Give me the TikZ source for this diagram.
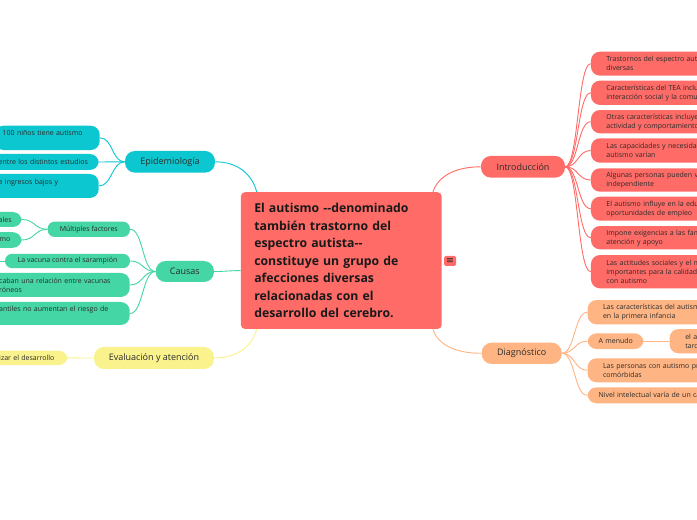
\documentclass[tikz,border=0pt]{standalone}
\usepackage{fontspec}
\setmainfont{Open Sans}
\newfontfamily\symfont{DejaVu Sans}
\usetikzlibrary{calc}
\newlength\pxu \setlength\pxu{0.75pt}
\definecolor{introc}{HTML}{FF6B66}
\definecolor{epic}{HTML}{0CC7CF}
\definecolor{causc}{HTML}{45D6A5}
\definecolor{evalc}{HTML}{FAF28C}
\definecolor{diagc}{HTML}{FFB583}
\definecolor{txt}{HTML}{2B2B2B}
\tikzset{
  lf/.style={fill=#1, rounded corners=9\pxu, text=txt, font=\fontsize{5.25}{6.75}\selectfont, align=left, inner ysep=0pt},
  lfR/.style={lf=#1, anchor=west, inner xsep=15.5\pxu, text width=150\pxu},
  lfRs/.style={lf=#1, anchor=west, inner xsep=11\pxu, text width=150\pxu},
  lfL/.style={lf=#1, anchor=east, inner xsep=8\pxu},
  lfC/.style={fill=#1, rounded corners=7\pxu, text=txt, font=\fontsize{5.25}{6.75}\selectfont, inner sep=0pt, anchor=center},
  br/.style={fill=#1, rounded corners=10\pxu, text=txt, font=\fontsize{6.75}{8}\selectfont, inner sep=0pt, anchor=center},
  edge/.style={draw=#1, line width=0.9\pxu},
}
\begin{document}
\begin{tikzpicture}[x=0.75pt, y=-0.75pt]
\useasboundingbox (0,0) rectangle (697,520);
\fill[white] (0,0) rectangle (697,520);
\clip (0,0) rectangle (697,520);

% central node
\node[fill=introc, rounded corners=4\pxu, anchor=center, minimum width=200.7\pxu, minimum height=136.7\pxu,
      inner xsep=13.3\pxu, inner ysep=0pt, text width=174\pxu, align=left, text=black!90,
      font=\bfseries\fontsize{9.2}{13.1}\selectfont] (c) at (341.3,260.6)
  {El autismo -\kern0pt-denominado\\también trastorno del\\espectro autista-\kern0pt-\\constituye un grupo de\\afecciones diversas\\relacionadas con el\\desarrollo del cerebro.};
\node[fill=introc, rounded corners=1.5\pxu, minimum width=12\pxu, minimum height=10\pxu, inner sep=0pt,
      text=black!85, font=\symfont\fontsize{7}{7}\selectfont] (icon) at (450,261) {≡};

% branch nodes
\node[br=epic, minimum width=90\pxu, minimum height=21.7\pxu] (epi) at (170,161.8) {Epidemiología};
\node[br=causc, minimum width=58.3\pxu, minimum height=21\pxu] (cau) at (184.8,271.5) {Causas};
\node[br=evalc, minimum width=120\pxu, minimum height=22\pxu] (eva) at (154,358) {Evaluación y atención};
\node[br=introc, minimum width=84\pxu, minimum height=21.7\pxu] (intro) at (523,166.8) {Introducción};
\node[br=diagc, minimum width=80\pxu, minimum height=21.3\pxu] (diag) at (521.7,353.3) {Diagnóstico};

% Epidemiologia leaves
\node[lfL=epic, text width=89\pxu, minimum height=24.3\pxu] (e1) at (100,137.9) {100 niños tiene autismo\\\phantom{x}};
\node[lfL=epic, text width=92\pxu, minimum height=16\pxu] (e2) at (99,162) {entre los distintos estudios};
\node[lfL=epic, text width=92\pxu, minimum height=24\pxu] (e3) at (99,186) {e ingresos bajos y\\\phantom{x}};

% Causas leaves
\node[lfC=causc, minimum width=82.3\pxu, minimum height=15.3\pxu] (mf) at (88.8,229.3) {Múltiples factores};
\node[lfL=causc, text width=15\pxu, minimum height=15\pxu] (ales) at (22,219.5) {ales};
\node[lfL=causc, text width=14\pxu, minimum height=15.7\pxu] (mo) at (22,240) {mo};
\node[lfC=causc, minimum width=125\pxu, minimum height=14.3\pxu] (vac) at (67.5,261) {La vacuna contra el sarampión};
\coordinate (vacL) at (-5,261);
\node[lfL=causc, text width=122.5\pxu, minimum height=24\pxu] (rel) at (130,285) {caban una relación entre vacunas\\róneos};
\node[lfL=causc, text width=122.5\pxu, minimum height=23\pxu] (ant) at (130,313.5) {antiles no aumentan el riesgo de\\\phantom{x}};

% Evaluacion leaf
\node[lfL=evalc, text width=60.5\pxu, minimum height=14.3\pxu] (ev1) at (68,357.9) {izar el desarrollo};

% Introduccion leaves
\node[lfR=introc, minimum height=24\pxu] (i1) at (590.7,63.7) {Trastornos del espectro autista\\diversas};
\node[lfR=introc, minimum height=24.3\pxu] (i2) at (590.7,92.8) {Características del TEA incluyen\\interacción social y la comunicación};
\node[lfR=introc, minimum height=23.3\pxu] (i3) at (590.7,121.7) {Otras características incluyen\\actividad y comportamiento};
\node[lfR=introc, minimum height=24.4\pxu] (i4) at (590.7,150.5) {Las capacidades y necesidades\\autismo varían};
\node[lfR=introc, minimum height=23.4\pxu] (i5) at (590.7,180) {Algunas personas pueden vivir\\independiente};
\node[lfR=introc, minimum height=24\pxu] (i6) at (590.7,208.7) {El autismo influye en la educación\\oportunidades de empleo};
\node[lfR=introc, minimum height=23.3\pxu] (i7) at (590.7,237.7) {Impone exigencias a las familias\\atención y apoyo};
\node[lfR=introc, minimum height=33.3\pxu] (i8) at (590.7,271.7) {Las actitudes sociales y el nivel\\importantes para la calidad\\con autismo};

% Diagnostico leaves
\node[lfR=diagc, minimum height=24.3\pxu] (d1) at (587.3,312.2) {Las características del autismo\\en la primera infancia};
\node[lf=diagc, anchor=west, inner xsep=11\pxu, text width=34\pxu, minimum height=15.7\pxu] (d2) at (587.3,341.2) {\mbox{A menudo}};
\node[lf=diagc, anchor=west, inner xsep=15.7\pxu, text width=150\pxu, minimum height=24.3\pxu] (d2a) at (669.3,341.2) {el autismo\\tardíamente};
\node[lfR=diagc, minimum height=24\pxu] (d3) at (587.3,370.3) {Las personas con autismo presentan\\comórbidas};
\node[lfRs=diagc, minimum height=16\pxu] (d4) at (587.3,395.3) {Nivel intelectual varía de un caso};

% connectors: center to branches
\draw[edge=epic] (epi.east) .. controls +(24,0) and +(-4,-16) .. ([xshift=16\pxu]c.north west);
\draw[edge=causc] (cau.east) .. controls +(12,0) and +(-12,0) .. ([yshift=-10\pxu]c.west);
\draw[edge=evalc] (eva.east) .. controls +(24,0) and +(-4,16) .. ([xshift=16\pxu]c.south west);
\draw[edge=introc] ([xshift=-9\pxu]c.north east) .. controls +(6,-18) and +(-22,0) .. (intro.west);
\draw[edge=diagc] ([xshift=-9\pxu]c.south east) .. controls +(6,18) and +(-22,0) .. (diag.west);

% Epidemiologia
\foreach \n in {e1,e2,e3}
  \draw[edge=epic] (epi.west) .. controls +(-13,0) and +(13,0) .. (\n.east);
% Causas
\foreach \n in {mf,vac,rel,ant}
  \draw[edge=causc] (cau.west) .. controls +(-13,0) and +(13,0) .. (\n.east);
\foreach \n in {ales,mo}
  \draw[edge=causc] (mf.west) .. controls +(-13,0) and +(13,0) .. (\n.east);
\draw[edge=causc] (vac.west) -- (vacL);
% Evaluacion
\draw[edge=evalc] (eva.west) -- (ev1.east);
% Introduccion
\foreach \n in {i1,i2,i3,i4,i5,i6,i7,i8}
  \draw[edge=introc] (intro.east) .. controls +(13,0) and +(-13,0) .. (\n.west);
% Diagnostico
\foreach \n in {d1,d2,d3,d4}
  \draw[edge=diagc] (diag.east) .. controls +(13,0) and +(-13,0) .. (\n.west);
\draw[edge=diagc] (d2.east) -- (d2a.west);
\end{tikzpicture}
\end{document}
